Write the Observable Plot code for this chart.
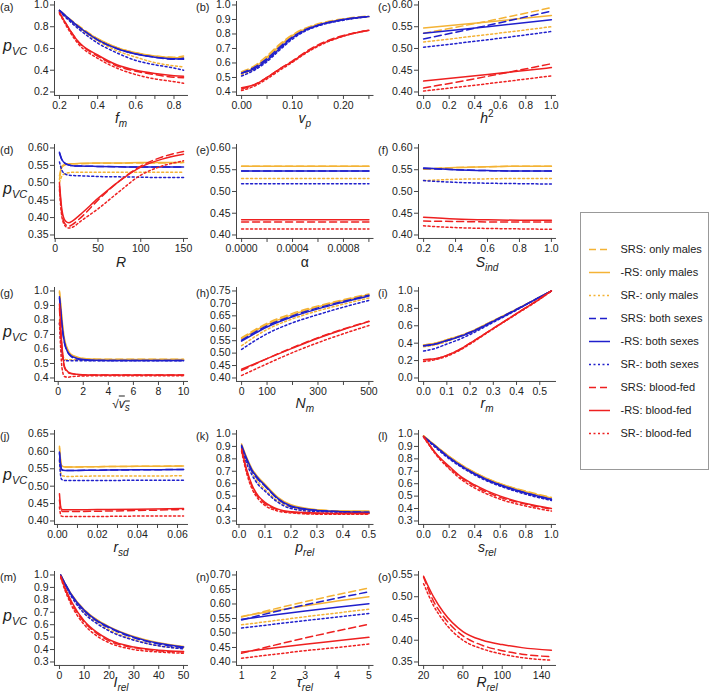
<!DOCTYPE html>
<html><head><meta charset="utf-8">
<script src="https://cdn.jsdelivr.net/npm/d3@7"></script>
<script src="https://cdn.jsdelivr.net/npm/@observablehq/plot@0.6"></script>
<style>
body{margin:0;background:#fff;font-family:Arial,"Liberation Sans",sans-serif;}
#root{position:relative;width:709px;height:693px;overflow:hidden;background:#fff;}
.pan{position:absolute;}
.plab{position:absolute;font-size:11px;line-height:14px;color:#222;white-space:nowrap;}
.xt{position:absolute;font-size:14px;color:#222;transform:translate(-50%,-50%);white-space:nowrap;line-height:12px;}
.xt sub{font-size:10px;line-height:0;}
.yt{position:absolute;font-size:16px;font-style:italic;color:#222;white-space:nowrap;line-height:18px;}
.yt sub{font-size:11px;}
</style></head><body><div id="root"></div><script>
// ---------------- data ----------------
const seriesNames = ["SRS: only males","-RS: only males","SR-: only males",
  "SRS: both sexes","-RS: both sexes","SR-: both sexes",
  "SRS: blood-fed","-RS: blood-fed","SR-: blood-fed"];

// (a) f_m
const a_x = [0.2, 0.3, 0.4, 0.5, 0.6, 0.7, 0.8, 0.85];
const a_y = [
 [0.95, 0.81, 0.69, 0.61, 0.56, 0.53, 0.52, 0.53],
 [0.95, 0.80, 0.69, 0.61, 0.56, 0.53, 0.515, 0.52],
 [0.94, 0.79, 0.67, 0.58, 0.52, 0.47, 0.44, 0.43],
 [0.95, 0.80, 0.68, 0.60, 0.55, 0.52, 0.50, 0.51],
 [0.95, 0.80, 0.68, 0.60, 0.55, 0.52, 0.505, 0.50],
 [0.94, 0.78, 0.65, 0.56, 0.49, 0.45, 0.42, 0.40],
 [0.93, 0.66, 0.53, 0.44, 0.39, 0.36, 0.335, 0.33],
 [0.93, 0.66, 0.54, 0.45, 0.40, 0.37, 0.35, 0.345],
 [0.92, 0.64, 0.51, 0.42, 0.36, 0.32, 0.295, 0.28]];
// (b) v_p
const b_x = [0, 0.025, 0.05, 0.075, 0.1, 0.125, 0.15, 0.2, 0.25];
const b_y = [
 [0.54, 0.58, 0.65, 0.73, 0.795, 0.84, 0.87, 0.905, 0.925],
 [0.53, 0.57, 0.64, 0.72, 0.79, 0.835, 0.865, 0.90, 0.92],
 [0.52, 0.56, 0.63, 0.71, 0.78, 0.83, 0.86, 0.90, 0.92],
 [0.53, 0.57, 0.63, 0.71, 0.78, 0.83, 0.86, 0.90, 0.92],
 [0.53, 0.56, 0.62, 0.70, 0.775, 0.825, 0.86, 0.90, 0.92],
 [0.51, 0.55, 0.61, 0.69, 0.765, 0.82, 0.855, 0.895, 0.92],
 [0.42, 0.45, 0.50, 0.56, 0.615, 0.675, 0.725, 0.79, 0.825],
 [0.43, 0.45, 0.50, 0.56, 0.61, 0.67, 0.72, 0.785, 0.825],
 [0.41, 0.44, 0.49, 0.55, 0.605, 0.665, 0.715, 0.785, 0.825]];
// (c) h^2
const c_x = [0, 0.5, 1];
const c_y = [
 [0.535, 0.563, 0.594],
 [0.547, 0.561, 0.576],
 [0.515, 0.532, 0.550],
 [0.522, 0.553, 0.586],
 [0.535, 0.550, 0.566],
 [0.503, 0.520, 0.539],
 [0.409, 0.436, 0.465],
 [0.425, 0.440, 0.456],
 [0.402, 0.419, 0.437]];
// (d) R
const d_x = [5, 8, 12, 16, 20, 30, 50, 75, 100, 125, 150];
const d_y = [
 [0.51, 0.545, 0.552, 0.554, 0.555, 0.555, 0.556, 0.556, 0.557, 0.557, 0.558],
 [0.52, 0.548, 0.553, 0.555, 0.555, 0.556, 0.557, 0.557, 0.558, 0.558, 0.559],
 [0.50, 0.52, 0.527, 0.529, 0.530, 0.530, 0.530, 0.530, 0.530, 0.530, 0.530],
 [0.585, 0.565, 0.555, 0.551, 0.549, 0.548, 0.547, 0.546, 0.545, 0.545, 0.545],
 [0.588, 0.566, 0.555, 0.551, 0.549, 0.548, 0.547, 0.546, 0.545, 0.545, 0.545],
 [0.56, 0.535, 0.525, 0.522, 0.521, 0.520, 0.518, 0.517, 0.516, 0.515, 0.515],
 [0.49, 0.41, 0.38, 0.375, 0.38, 0.40, 0.45, 0.505, 0.548, 0.574, 0.590],
 [0.50, 0.42, 0.39, 0.385, 0.39, 0.41, 0.455, 0.505, 0.545, 0.568, 0.582],
 [0.48, 0.40, 0.375, 0.37, 0.372, 0.39, 0.425, 0.475, 0.522, 0.548, 0.563]];
// (e) alpha
const e_x = [0, 0.0005, 0.001];
const e_y = [
 [0.558, 0.558, 0.558],
 [0.558, 0.558, 0.558],
 [0.530, 0.530, 0.530],
 [0.547, 0.547, 0.547],
 [0.547, 0.547, 0.547],
 [0.518, 0.518, 0.518],
 [0.430, 0.430, 0.430],
 [0.435, 0.435, 0.435],
 [0.414, 0.414, 0.414]];
// (f) S_ind
const f_x = [0.2, 0.4, 0.6, 0.8, 1.0];
const f_y = [
 [0.552, 0.555, 0.557, 0.558, 0.558],
 [0.551, 0.555, 0.557, 0.558, 0.558],
 [0.525, 0.528, 0.529, 0.530, 0.530],
 [0.553, 0.550, 0.548, 0.547, 0.547],
 [0.554, 0.550, 0.548, 0.547, 0.547],
 [0.525, 0.521, 0.519, 0.518, 0.517],
 [0.432, 0.431, 0.430, 0.430, 0.430],
 [0.441, 0.437, 0.435, 0.434, 0.434],
 [0.421, 0.417, 0.415, 0.414, 0.413]];
// (g) sqrt(v_s)
const g_x = [0.1, 0.2, 0.3, 0.5, 0.75, 1, 1.5, 2, 3, 5, 10];
const g_y = [
 [0.99, 0.90, 0.80, 0.66, 0.59, 0.56, 0.54, 0.535, 0.53, 0.53, 0.53],
 [1.0, 0.91, 0.81, 0.67, 0.60, 0.565, 0.545, 0.535, 0.53, 0.528, 0.528],
 [0.80, 0.70, 0.60, 0.53, 0.525, 0.525, 0.525, 0.525, 0.525, 0.525, 0.525],
 [0.95, 0.86, 0.76, 0.64, 0.58, 0.55, 0.53, 0.525, 0.52, 0.52, 0.52],
 [0.96, 0.87, 0.77, 0.645, 0.58, 0.555, 0.535, 0.527, 0.522, 0.52, 0.52],
 [0.78, 0.66, 0.56, 0.52, 0.518, 0.518, 0.518, 0.518, 0.518, 0.518, 0.518],
 [0.88, 0.72, 0.60, 0.47, 0.44, 0.43, 0.425, 0.42, 0.42, 0.42, 0.42],
 [0.91, 0.75, 0.62, 0.48, 0.445, 0.433, 0.425, 0.422, 0.42, 0.42, 0.42],
 [0.78, 0.60, 0.47, 0.41, 0.405, 0.408, 0.412, 0.414, 0.415, 0.415, 0.415]];
// (h) N_m
const h_x = [0, 100, 200, 300, 400, 500];
const h_y = [
 [0.562, 0.620, 0.660, 0.690, 0.715, 0.738],
 [0.558, 0.615, 0.655, 0.686, 0.712, 0.735],
 [0.530, 0.595, 0.638, 0.670, 0.697, 0.722],
 [0.552, 0.610, 0.650, 0.682, 0.708, 0.733],
 [0.548, 0.605, 0.646, 0.678, 0.705, 0.730],
 [0.515, 0.578, 0.622, 0.655, 0.685, 0.712],
 [0.430, 0.478, 0.522, 0.562, 0.597, 0.628],
 [0.435, 0.478, 0.520, 0.560, 0.595, 0.627],
 [0.410, 0.457, 0.502, 0.542, 0.578, 0.611]];
// (i) r_m
const i_x = [0, 0.05, 0.1, 0.15, 0.2, 0.3, 0.4, 0.5, 0.55];
const i_y = [
 [0.38, 0.40, 0.44, 0.48, 0.53, 0.66, 0.79, 0.93, 1.0],
 [0.38, 0.40, 0.44, 0.48, 0.53, 0.66, 0.79, 0.93, 1.0],
 [0.36, 0.38, 0.42, 0.47, 0.52, 0.655, 0.79, 0.93, 1.0],
 [0.37, 0.39, 0.43, 0.475, 0.525, 0.655, 0.79, 0.93, 1.0],
 [0.37, 0.39, 0.43, 0.47, 0.52, 0.65, 0.785, 0.93, 1.0],
 [0.31, 0.34, 0.39, 0.44, 0.50, 0.64, 0.78, 0.93, 1.0],
 [0.21, 0.22, 0.26, 0.32, 0.40, 0.57, 0.74, 0.91, 1.0],
 [0.21, 0.22, 0.26, 0.32, 0.40, 0.57, 0.74, 0.91, 1.0],
 [0.19, 0.21, 0.25, 0.31, 0.39, 0.565, 0.735, 0.905, 1.0]];
// (j) r_sd
const j_x = [0.001, 0.0015, 0.002, 0.003, 0.005, 0.02, 0.04, 0.063];
const j_y = [
 [0.61, 0.575, 0.558, 0.555, 0.555, 0.556, 0.557, 0.558],
 [0.615, 0.58, 0.56, 0.556, 0.555, 0.556, 0.557, 0.558],
 [0.58, 0.545, 0.532, 0.529, 0.528, 0.529, 0.529, 0.530],
 [0.595, 0.565, 0.548, 0.545, 0.545, 0.546, 0.547, 0.548],
 [0.598, 0.567, 0.549, 0.546, 0.545, 0.546, 0.547, 0.548],
 [0.575, 0.535, 0.52, 0.517, 0.516, 0.516, 0.517, 0.517],
 [0.46, 0.44, 0.43, 0.427, 0.427, 0.428, 0.430, 0.433],
 [0.478, 0.445, 0.434, 0.432, 0.432, 0.433, 0.434, 0.436],
 [0.44, 0.42, 0.414, 0.413, 0.413, 0.413, 0.414, 0.414]];
// (k) p_rel
const k_x = [0.01, 0.03, 0.05, 0.075, 0.1, 0.15, 0.2, 0.3, 0.4, 0.5];
const k_y = [
 [0.91, 0.80, 0.71, 0.64, 0.585, 0.48, 0.42, 0.39, 0.38, 0.375],
 [0.92, 0.81, 0.72, 0.65, 0.595, 0.49, 0.43, 0.39, 0.38, 0.38],
 [0.90, 0.78, 0.69, 0.61, 0.555, 0.46, 0.41, 0.38, 0.375, 0.37],
 [0.90, 0.79, 0.70, 0.63, 0.58, 0.475, 0.415, 0.385, 0.375, 0.37],
 [0.91, 0.80, 0.71, 0.64, 0.585, 0.48, 0.42, 0.385, 0.375, 0.37],
 [0.89, 0.76, 0.67, 0.59, 0.54, 0.45, 0.40, 0.375, 0.37, 0.365],
 [0.87, 0.70, 0.58, 0.49, 0.44, 0.39, 0.37, 0.36, 0.36, 0.36],
 [0.88, 0.71, 0.59, 0.50, 0.45, 0.395, 0.375, 0.365, 0.36, 0.36],
 [0.86, 0.68, 0.56, 0.475, 0.425, 0.38, 0.365, 0.355, 0.355, 0.355]];
// (l) s_rel
const l_x = [0, 0.1, 0.2, 0.3, 0.4, 0.5, 0.6, 0.8, 1.0];
const l_y = [
 [0.985, 0.90, 0.82, 0.75, 0.69, 0.64, 0.60, 0.54, 0.49],
 [0.985, 0.90, 0.82, 0.75, 0.69, 0.64, 0.60, 0.535, 0.485],
 [0.98, 0.89, 0.81, 0.735, 0.675, 0.625, 0.585, 0.52, 0.47],
 [0.98, 0.895, 0.81, 0.74, 0.68, 0.63, 0.59, 0.525, 0.475],
 [0.98, 0.895, 0.81, 0.74, 0.68, 0.63, 0.59, 0.525, 0.475],
 [0.975, 0.885, 0.80, 0.73, 0.67, 0.62, 0.58, 0.515, 0.465],
 [0.98, 0.835, 0.73, 0.645, 0.58, 0.53, 0.49, 0.435, 0.395],
 [0.98, 0.84, 0.74, 0.65, 0.59, 0.54, 0.50, 0.44, 0.40],
 [0.975, 0.83, 0.72, 0.63, 0.565, 0.515, 0.475, 0.42, 0.38]];
// (m) I_rel
const m_x = [0.5, 2, 5, 10, 15, 20, 30, 40, 50];
const m_y = [
 [1.0, 0.94, 0.84, 0.72, 0.64, 0.58, 0.50, 0.45, 0.42],
 [1.0, 0.94, 0.84, 0.72, 0.64, 0.585, 0.505, 0.455, 0.425],
 [0.99, 0.93, 0.83, 0.70, 0.62, 0.56, 0.48, 0.43, 0.41],
 [1.0, 0.94, 0.835, 0.71, 0.63, 0.575, 0.495, 0.445, 0.415],
 [1.0, 0.94, 0.835, 0.715, 0.635, 0.58, 0.50, 0.45, 0.42],
 [0.99, 0.93, 0.82, 0.69, 0.61, 0.55, 0.475, 0.43, 0.405],
 [0.99, 0.90, 0.77, 0.62, 0.53, 0.47, 0.415, 0.39, 0.38],
 [0.99, 0.91, 0.78, 0.63, 0.54, 0.48, 0.42, 0.395, 0.385],
 [0.98, 0.89, 0.75, 0.60, 0.51, 0.455, 0.40, 0.38, 0.37]];
// (n) tau_rel
const n_x = [1, 2, 3, 4, 5];
const n_y = [
 [0.555, 0.582, 0.608, 0.632, 0.655],
 [0.557, 0.576, 0.594, 0.610, 0.625],
 [0.528, 0.542, 0.556, 0.569, 0.582],
 [0.545, 0.572, 0.597, 0.620, 0.642],
 [0.547, 0.562, 0.576, 0.589, 0.601],
 [0.517, 0.530, 0.543, 0.555, 0.567],
 [0.430, 0.457, 0.483, 0.507, 0.530],
 [0.434, 0.448, 0.461, 0.473, 0.485],
 [0.413, 0.426, 0.439, 0.450, 0.462]];
// (o) R_rel (blood-fed only)
const o_x = [20, 30, 40, 60, 80, 100, 120, 150];
const o_series = [6, 7, 8];
const o_y = [
 [0.545, 0.49, 0.455, 0.41, 0.388, 0.376, 0.368, 0.362],
 [0.547, 0.50, 0.465, 0.42, 0.400, 0.390, 0.383, 0.377],
 [0.53, 0.48, 0.445, 0.40, 0.380, 0.368, 0.360, 0.354]];

// tick values
const a_xt = [0.2,0.3,0.4,0.5,0.6,0.7,0.8], a_xl = [0.2,0.4,0.6,0.8], a_yt = [0.2,0.4,0.6,0.8,1.0];
const b_xt = [0,0.05,0.1,0.15,0.2,0.25], b_xl = [0,0.1,0.2], b_yt = [0.4,0.5,0.6,0.7,0.8,0.9,1.0];
const c_xt = [0,0.2,0.4,0.6,0.8,1.0], c_yt = [0.40,0.45,0.50,0.55,0.60];
const d_xt = [0,50,100,150], d_yt = [0.35,0.40,0.45,0.50,0.55,0.60];
const e_xt = [0,0.0002,0.0004,0.0006,0.0008,0.001], e_xl = [0,0.0004,0.0008], e_yt = [0.40,0.45,0.50,0.55,0.60];
const f_xt = [0.2,0.4,0.6,0.8,1.0], f_yt = [0.40,0.45,0.50,0.55,0.60];
const g_xt = [0,2,4,6,8,10], g_yt = [0.4,0.5,0.6,0.7,0.8,0.9,1.0];
const h_xt = [0,100,200,300,400,500], h_xl = [0,100,300,500], h_yt = [0.40,0.45,0.50,0.55,0.60,0.65,0.70,0.75];
const i_xt = [0,0.1,0.2,0.3,0.4,0.5], i_yt = [0.0,0.2,0.4,0.6,0.8,1.0];
const j_xt = [0,0.01,0.02,0.03,0.04,0.05,0.06], j_xl = [0,0.02,0.04,0.06], j_yt = [0.40,0.45,0.50,0.55,0.60,0.65];
const k_xt = [0,0.1,0.2,0.3,0.4,0.5], k_yt = [0.3,0.4,0.5,0.6,0.7,0.8,0.9,1.0];
const l_xt = [0,0.2,0.4,0.6,0.8,1.0], l_yt = [0.3,0.4,0.5,0.6,0.7,0.8,0.9,1.0];
const m_xt = [0,10,20,30,40,50], m_yt = [0.3,0.4,0.5,0.6,0.7,0.8,0.9,1.0];
const n_xt = [1,2,3,4,5], n_yt = [0.40,0.45,0.50,0.55,0.60,0.65,0.70];
const o_xt = [20,40,60,80,100,120,140], o_xl = [20,60,100,140], o_yt = [0.35,0.40,0.45,0.50,0.55];

// ---------------- layout / style ----------------
const groupColor = {"only males":"#F4B335","both sexes":"#1F1FCC","blood-fed":"#EE2020"};
function styleOf(name){
  const [t, g] = name.split(": ");
  return {stroke: groupColor[g], strokeDasharray: t === "SRS" ? "7,4" : t === "SR-" ? "2,2.5" : null};
}
const topTick = [4, 147, 290, 433, 574];
const titleOff = [114, 115, 113, 114, 108];
const colLeft = [54, 236, 418];
const colW = [134, 137.5, 138];
const tickSpan = 87;
const ML = 48, MR = 12, MT = 6, MB = 26;

const panels = [
 {id:"a", x:a_x, ys:a_y, xr:[0.2,0.85], xt:a_xt, xl:a_xl, xf:".1f", yt:a_yt, yf:".1f", title:"<i>f</i><sub><i>m</i></sub>"},
 {id:"b", x:b_x, ys:b_y, xr:[0,0.25], xt:b_xt, xl:b_xl, xf:".2f", yt:b_yt, yf:".1f", title:"<i>v</i><sub><i>p</i></sub>"},
 {id:"c", x:c_x, ys:c_y, xr:[0,1], xt:c_xt, xf:".1f", yt:c_yt, yf:".2f", title:"<i>h</i><sup style='font-size:10px;line-height:0'>2</sup>"},
 {id:"d", x:d_x, ys:d_y, xr:[5,150], xt:d_xt, xf:"d", yt:d_yt, yf:".2f", title:"<i>R</i>"},
 {id:"e", x:e_x, ys:e_y, xr:[0,0.001], xt:e_xt, xl:e_xl, xf:".4f", yt:e_yt, yf:".2f", title:"α"},
 {id:"f", x:f_x, ys:f_y, xr:[0.2,1], xt:f_xt, xf:".1f", yt:f_yt, yf:".2f", title:"<i>S</i><sub><i>ind</i></sub>"},
 {id:"g", x:g_x, ys:g_y, xr:[0.1,10], xt:g_xt, xf:"d", yt:g_yt, yf:".1f", title:"<span style='font-size:12px'>√<span style='text-decoration:overline'><i>v</i><sub><i>s</i></sub></span></span>"},
 {id:"h", x:h_x, ys:h_y, xr:[0,500], xt:h_xt, xl:h_xl, xf:"d", yt:h_yt, yf:".2f", title:"<i>N</i><sub><i>m</i></sub>"},
 {id:"i", x:i_x, ys:i_y, xr:[0,0.55], xt:i_xt, xf:".1f", yt:i_yt, yf:".1f", title:"<i>r</i><sub><i>m</i></sub>"},
 {id:"j", x:j_x, ys:j_y, xr:[0.001,0.063], xt:j_xt, xl:j_xl, xf:".2f", yt:j_yt, yf:".2f", title:"<i>r</i><sub><i>sd</i></sub>"},
 {id:"k", x:k_x, ys:k_y, xr:[0.01,0.5], xt:k_xt, xf:".1f", yt:k_yt, yf:".1f", title:"<i>p</i><sub><i>rel</i></sub>"},
 {id:"l", x:l_x, ys:l_y, xr:[0,1], xt:l_xt, xf:".1f", yt:l_yt, yf:".1f", title:"<i>s</i><sub><i>rel</i></sub>"},
 {id:"m", x:m_x, ys:m_y, xr:[0,50], xt:m_xt, xf:"d", yt:m_yt, yf:".1f", title:"<i>I</i><sub><i>rel</i></sub>"},
 {id:"n", x:n_x, ys:n_y, xr:[1,5], xt:n_xt, xf:"d", yt:n_yt, yf:".2f", title:"<i>τ</i><sub><i>rel</i></sub>"},
 {id:"o", x:o_x, ys:o_y, series:o_series, xr:[20,150], xt:o_xt, xl:o_xl, xf:"d", yt:o_yt, yf:".2f", title:"<i>R</i><sub><i>rel</i></sub>"}
];

const root = document.getElementById("root");
const fontFamily = "Arial, 'Liberation Sans', sans-serif";

panels.forEach((p, idx) => {
  const r = Math.floor(idx / 3), c = idx % 3;
  const W = colW[c];
  const H = tickSpan * 1.08;
  const xpad = (p.xr[1] - p.xr[0]) * 0.04;
  const xdom = [p.xr[0] - xpad, p.xr[1] + xpad];
  const ylo = p.yt[0], yhi = p.yt[p.yt.length - 1];
  const ypad = (yhi - ylo) * 0.04;
  const ydom = [ylo - ypad, yhi + ypad];
  const xfmt = d3.format(p.xf), yfmt = d3.format(p.yf);
  const labeled = p.xl || p.xt;
  const idxs = p.series || seriesNames.map((_, i) => i);
  const lineMarks = idxs.map((si, k) => {
    const pts = p.x.map((xv, j) => ({x: xv, y: p.ys[k][j]}));
    const st = styleOf(seriesNames[si]);
    return Plot.line(pts, {x: "x", y: "y", stroke: st.stroke, strokeDasharray: st.strokeDasharray,
      strokeWidth: 1.5, curve: "monotone-x", clip: true});
  });
  const svg = Plot.plot({
    width: ML + W + MR, height: MT + H + MB,
    marginLeft: ML, marginRight: MR, marginTop: MT, marginBottom: MB,
    style: {fontFamily, fontSize: "10.5px", background: "transparent", overflow: "visible", color: "#222"},
    x: {domain: xdom},
    y: {domain: ydom},
    marks: [
      Plot.axisX({ticks: p.xt, tickFormat: d => labeled.some(v => Math.abs(v - d) < 1e-9) ? xfmt(d) : "",
        tickSize: 4, tickPadding: 2, label: null, fontSize: 10.5, stroke: "#444"}),
      Plot.axisY({ticks: p.yt, tickFormat: yfmt, tickSize: 4, tickPadding: 2, label: null, fontSize: 10.5, stroke: "#444"}),
      Plot.ruleX([xdom[0]], {stroke: "#444"}),
      Plot.ruleY([ydom[0]], {stroke: "#444"}),
      ...lineMarks
    ]
  });
  const div = document.createElement("div");
  div.className = "pan";
  div.style.left = (colLeft[c] - ML) + "px";
  div.style.top = (topTick[r] - tickSpan * 0.04 - MT) + "px";
  div.style.width = (ML + W + MR) + "px";
  div.appendChild(svg);
  root.appendChild(div);

  // panel label
  const pl = document.createElement("div");
  pl.className = "plab";
  pl.style.left = [0, 196, 378][c] + "px";
  pl.style.top = (topTick[r] - 4) + "px";
  pl.textContent = "(" + p.id + ")";
  root.appendChild(pl);

  // x title
  const xt = document.createElement("div");
  xt.className = "xt";
  xt.style.left = (colLeft[c] + W / 2) + "px";
  xt.style.top = (topTick[r] + titleOff[r]) + "px";
  xt.innerHTML = p.title;
  root.appendChild(xt);

  // y title
  if (c === 0) {
    const yt = document.createElement("div");
    yt.className = "yt";
    yt.style.left = "3px";
    yt.style.top = (topTick[r] + 33) + "px";
    yt.innerHTML = "p<sub>VC</sub>";
    root.appendChild(yt);
  }
});

// legend
const legend = Plot.plot({
  width: 128, height: 257, margin: 0,
  style: {fontFamily, background: "transparent", overflow: "visible", color: "#222"},
  x: {domain: [0, 128], range: [0, 128], axis: null},
  y: {type: "point", domain: seriesNames, range: [21, 236], axis: null},
  marks: [
    Plot.frame({stroke: "#999"}),
    ...seriesNames.map(s => {
      const st = styleOf(s);
      return Plot.ruleY([s], {y: d => d, x1: 9, x2: 30, stroke: st.stroke, strokeDasharray: st.strokeDasharray, strokeWidth: 1.5});
    }),
    Plot.text(seriesNames, {x: 40, y: d => d, text: d => d, textAnchor: "start", fontSize: 11, fill: "#222"})
  ]
});
const ld = document.createElement("div");
ld.className = "pan";
ld.style.left = "580px";
ld.style.top = "212px";
ld.style.width = "128px";
ld.appendChild(legend);
root.appendChild(ld);
</script></body></html>
